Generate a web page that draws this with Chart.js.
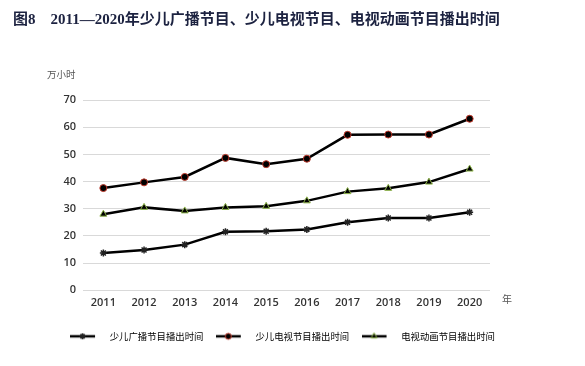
<!DOCTYPE html>
<html><head><meta charset="utf-8">
<script src="https://cdn.jsdelivr.net/npm/chart.js@4"></script>
<style>
html,body{margin:0;padding:0;background:#fff;}
#wrap{position:relative;width:585px;height:366px;overflow:hidden;}
#c{position:absolute;left:0;top:0;}
.t{position:absolute;white-space:nowrap;}
#title{left:13px;top:9px;font:bold 15px "Liberation Serif","Noto Sans CJK SC";color:#1c2240;line-height:20px;}
#unit{left:47px;top:68px;font:9.5px "Noto Sans CJK SC";color:#555;line-height:12px;}
#nian{left:502px;top:292px;font:10px "Noto Sans CJK SC";color:#555;line-height:14px;}
</style></head>
<body><div id="wrap">
<canvas id="c" width="585" height="366"></canvas>
<div class="t" id="title">图8　2011—2020年少儿广播节目、少儿电视节目、电视动画节目播出时间</div>
<div class="t" id="unit">万小时</div>
<div class="t" id="nian">年</div>
</div>
<script>
const years = ['2011','2012','2013','2014','2015','2016','2017','2018','2019','2020'];
const seriesNames = ['少儿广播节目播出时间','少儿电视节目播出时间','电视动画节目播出时间'];
const radioHours = [13.7,14.8,16.8,21.5,21.7,22.4,25.0,26.6,26.6,28.7];
const tvHours = [37.6,39.7,41.7,48.7,46.4,48.4,57.2,57.3,57.3,63.1];
const animationHours = [28.0,30.5,29.2,30.5,30.9,32.9,36.3,37.5,39.8,44.6];
const yTicks = [0,10,20,30,40,50,60,70];

const styles = [
  {pointStyle:'star', bg:'#000', border:'#222', r:3.5, bw:1.5},
  {pointStyle:'circle', bg:'#000', border:'#c0392b', r:3.5, bw:1},
  {pointStyle:'triangle', bg:'#000', border:'#8db34a', r:4, bw:1}
];

const dataArrays=[radioHours,tvHours,animationHours];
const datasets=dataArrays.map((d,i)=>({
  label:seriesNames[i], data:d,
  borderColor:'#000', borderWidth:2.5, tension:0,
  pointStyle:styles[i].pointStyle, pointRadius:styles[i].r,
  pointBackgroundColor:styles[i].bg, pointBorderColor:styles[i].border, pointBorderWidth:styles[i].bw,
  fill:false
}));

function mkImg(i){
  const st=styles[i];
  const cv=document.createElement('canvas'); cv.width=35; cv.height=10;
  const g=cv.getContext('2d');
  g.strokeStyle='#000'; g.lineWidth=2.5;
  g.beginPath(); g.moveTo(0,5); g.lineTo(25,5); g.stroke();
  g.fillStyle=st.bg; g.strokeStyle=st.border; g.lineWidth=st.bw;
  Chart.helpers.drawPoint(g,{pointStyle:st.pointStyle,radius:st.r*0.85,borderWidth:st.bw,rotation:0},12.5,5);
  return cv;
}

new Chart(document.getElementById('c'),{
  type:'line',
  data:{labels:years,datasets},
  options:{
    responsive:false, animation:false,
    layout:{padding:{top:100,bottom:15,left:0,right:20}},
    plugins:{
      tooltip:{enabled:false},
      legend:{
        position:'bottom',
        labels:{
          usePointStyle:true, pointStyleWidth:35, padding:12.3,
          color:'#595959', font:{family:'"Noto Sans CJK SC"',size:9.4},
          generateLabels:(chart)=>chart.data.datasets.map((ds,i)=>({
            text:ds.label, pointStyle:mkImg(i), datasetIndex:i,
            fillStyle:'#000', strokeStyle:'#000', lineWidth:0, hidden:false
          }))
        }
      }
    },
    scales:{
      x:{
        offset:true,
        grid:{display:false,drawTicks:false},
        border:{display:false},
        ticks:{color:'#333',font:{family:'"Open Sans"',size:11,weight:'600'},padding:6,maxRotation:0},
        afterFit:s=>{s.height=29;}
      },
      y:{
        min:0,max:70,
        afterBuildTicks:s=>{s.ticks=yTicks.map(v=>({value:v}));},
        grid:{color:'#d9d9d9',lineWidth:1,drawTicks:false},
        border:{display:false},
        ticks:{color:'#333',font:{family:'"Open Sans"',size:11,weight:'600'},padding:7},
        afterFit:s=>{s.width=83;}
      },
      yr:{
        position:'right', display:true,
        grid:{display:false}, border:{display:false}, ticks:{display:false},
        afterFit:s=>{s.width=75;}
      }
    }
  }
});
</script>
</body></html>
